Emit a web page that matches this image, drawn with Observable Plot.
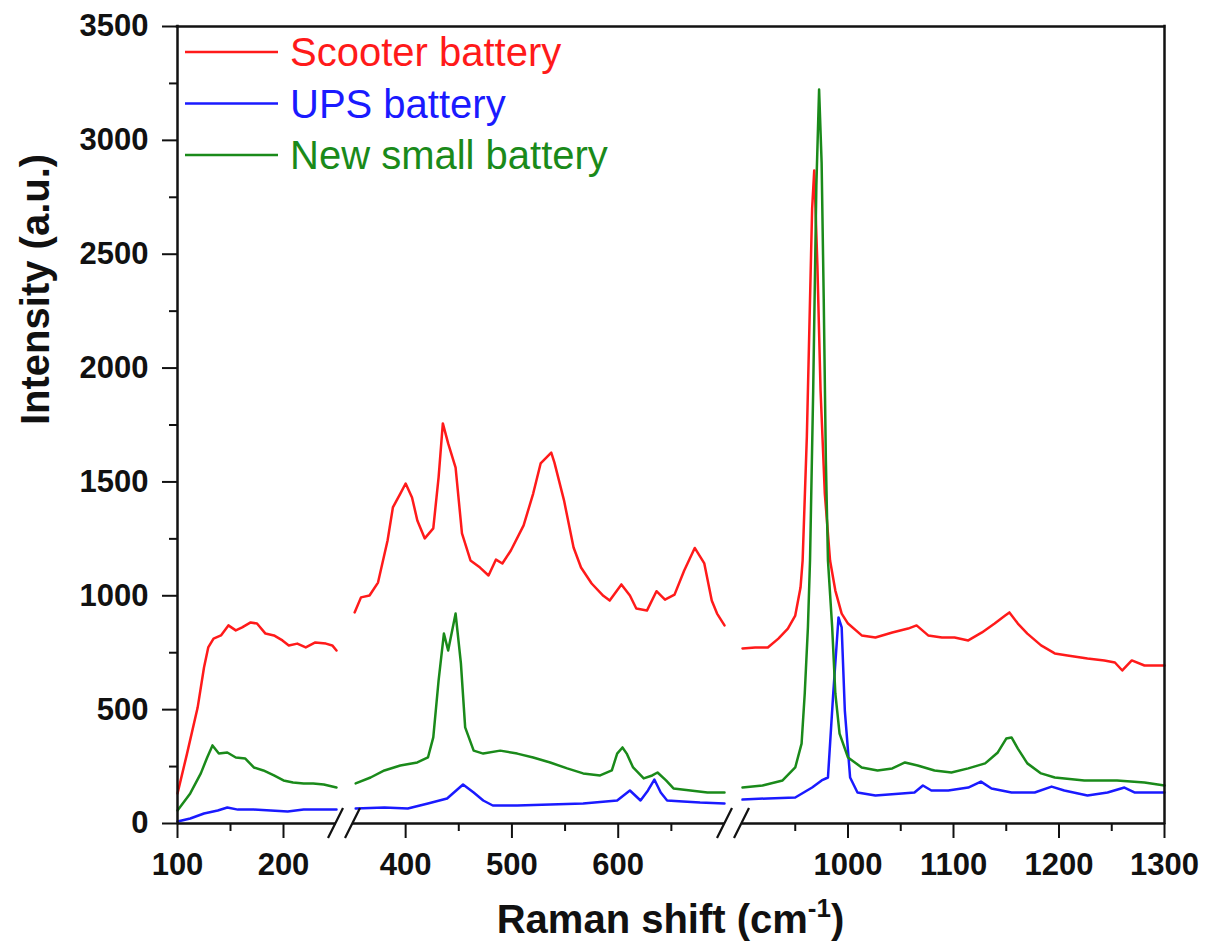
<!DOCTYPE html>
<html>
<head>
<meta charset="utf-8">
<script src="https://cdn.jsdelivr.net/npm/d3@7"></script>
<script src="https://cdn.jsdelivr.net/npm/@observablehq/plot@0.6"></script>
<style>
  body { margin: 0; background: #fff; }
  svg { font-family: Arial, "Liberation Sans", sans-serif; background: #fff; }
</style>
</head>
<body>
<div id="chart"></div>
<script>
// ---- data ----
const seriesNames = ["Scooter battery", "UPS battery", "New small battery"];
const seriesColors = ["#ff1a1a", "#1a1aff", "#1a8a1a"];

// x-axis segments (broken axis)
const segments = [[100, 250], [350, 700], [900, 1300]];

const scooterShift = [100,109,119,125,129,134,141,148,155,161,169,175,183,191,199,205,213,221,230,240,246,250,
  352,358,366,374,383,388,395,400,406,411,418,426,431,435,440,447,453,461,470,478,485,491,499,511,520,527,537,540,549,558,565,575,586,592,603,611,617,627,636,644,653,662,672,681,688,693,700,
  900,912,924,934,943,950,955,957,961,964,966,968,971,974,978,983,988,994,1000,1013,1026,1042,1057,1065,1076,1089,1101,1114,1127,1139,1149,1153,1161,1170,1183,1196,1208,1227,1243,1253,1260,1269,1281,1300];
const scooterIntensity = [132,307,509,685,773,812,826,870,848,861,883,878,834,826,804,782,790,773,795,790,782,760,
  927,993,1001,1058,1243,1388,1449,1493,1432,1331,1252,1296,1520,1757,1669,1563,1274,1155,1124,1089,1159,1142,1199,1309,1449,1581,1629,1585,1419,1212,1124,1054,1000,979,1050,1001,944,935,1020,983,1005,1110,1210,1142,979,922,870,
  769,773,773,812,856,913,1036,1155,1700,2300,2700,2868,2450,1900,1450,1155,1023,922,878,826,817,839,856,870,826,817,817,804,839,878,913,927,878,834,782,747,738,725,716,707,672,716,694,694];

const upsShift = [100,112,125,138,147,157,172,188,204,219,235,250,
  353,380,402,421,439,454,464,473,482,505,536,567,599,611,621,628,634,640,646,661,677,700,
  900,924,950,966,975,981,986,991,994,997,1002,1009,1026,1051,1063,1071,1079,1095,1114,1126,1136,1155,1177,1193,1205,1227,1246,1262,1272,1300];
const upsIntensity = [9,22,44,57,70,61,61,57,53,61,61,61,
  66,70,66,88,110,171,136,101,79,79,83,88,101,145,101,145,193,136,101,97,92,88,
  105,110,114,158,189,202,571,905,861,496,202,136,123,132,136,167,145,145,158,184,154,136,136,162,145,123,136,158,136,136];

const newShift = [100,112,122,128,133,139,147,155,164,172,181,191,200,209,219,228,238,250,
  353,367,380,395,411,421,426,431,436,440,447,452,456,464,473,489,505,520,536,552,567,583,594,599,604,608,614,624,632,637,645,652,668,684,700,
  900,919,938,950,956,959,962,964,967,970,972.6,975,977,979,981,985,988,992,1000,1013,1028,1042,1054,1066,1082,1098,1114,1130,1142,1150,1155,1161,1170,1183,1196,1224,1255,1281,1300];
const newIntensity = [57,132,220,290,343,307,312,290,285,246,233,211,189,180,176,176,171,158,
  176,202,233,255,268,290,378,628,834,760,922,703,422,320,307,320,307,290,268,242,220,211,233,307,334,307,246,198,211,224,189,154,145,136,136,
  158,167,189,246,351,571,861,1155,1900,2800,3223,2900,2300,1600,1155,861,571,395,290,246,233,242,268,255,233,224,242,264,312,373,378,329,264,220,202,189,189,180,167];

// ticks
const xMajorTicks = [100, 200, 400, 500, 600, 1000, 1100, 1200, 1300];
const xMinorTicks = [150, 450, 550, 650, 950, 1050, 1150, 1250];
const yMajorTicks = [0, 500, 1000, 1500, 2000, 2500, 3000, 3500];
const yMinorTicks = [250, 750, 1250, 1750, 2250, 2750, 3250];

// ---- build table ----
const segOf = (v) => segments.findIndex(([a, b]) => v >= a && v <= b);
const rows = [];
[[scooterShift, scooterIntensity], [upsShift, upsIntensity], [newShift, newIntensity]].forEach(([xs, ys], i) => {
  xs.forEach((v, j) => rows.push({series: seriesNames[i], shift: v, intensity: ys[j], seg: segOf(v)}));
});

const INK = "#111";

function decorations(index, scales, values, dimensions) {
  const g = d3.create("svg:g");
  const x = scales.x, y = scales.y;
  const y0 = y(0);
  // break marks on the x axis
  for (let i = 0; i < segments.length - 1; i++) {
    const c = (x(segments[i][1]) + x(segments[i + 1][0])) / 2;
    for (const off of [-8.5, 8.5]) {
      g.append("line")
        .attr("x1", c + off - 7.5).attr("y1", y0 + 15)
        .attr("x2", c + off + 7.5).attr("y2", y0 - 15)
        .attr("stroke", INK).attr("stroke-width", 2.2);
    }
  }
  // legend
  const L = dimensions.marginLeft, T = dimensions.marginTop;
  seriesNames.forEach((name, i) => {
    const ly = T + 26 + 51.5 * i;
    g.append("line")
      .attr("x1", L + 8).attr("x2", L + 101).attr("y1", ly).attr("y2", ly)
      .attr("stroke", seriesColors[i]).attr("stroke-width", 2.5);
    g.append("text")
      .attr("x", L + 113).attr("y", ly + 14)
      .attr("text-anchor", "start")
      .attr("fill", seriesColors[i]).attr("font-size", 40)
      .text(name);
  });
  // x-axis title
  const cx = (dimensions.marginLeft + dimensions.width - dimensions.marginRight) / 2;
  const t = g.append("text")
    .attr("x", cx).attr("y", 933)
    .attr("text-anchor", "middle").attr("font-size", 40).attr("font-weight", "bold").attr("fill", INK);
  t.append("tspan").text("Raman shift (cm");
  t.append("tspan").attr("font-size", 26).attr("dy", -16).text("-1");
  t.append("tspan").attr("dy", 16).text(")");
  return g.node();
}

const chart = Plot.plot({
  width: 1213,
  height: 945,
  marginLeft: 177,
  marginRight: 49,
  marginTop: 26,
  marginBottom: 122,
  style: {background: "#fff", color: INK},
  x: {type: "linear", domain: [100, 250, 350, 700, 900, 1300], range: [177, 336, 352, 724, 742, 1164], label: null},
  y: {domain: [0, 3500], range: [823, 26], label: null},
  color: {domain: seriesNames, range: seriesColors},
  marks: [
    Plot.line(rows, {x: "shift", y: "intensity", z: d => d.series + d.seg, stroke: "series", strokeWidth: 2.5, strokeLinejoin: "round"}),
    // frame: left, right, top and broken bottom
    Plot.ruleX([100, 1300], {stroke: INK, strokeWidth: 2.5, strokeLinecap: "square"}),
    Plot.ruleY([3500], {stroke: INK, strokeWidth: 2.5, strokeLinecap: "square"}),
    Plot.ruleY(segments, {y: () => 0, x1: d => d[0], x2: d => d[1], stroke: INK, strokeWidth: 2.5}),
    // axes
    Plot.axisY(yMajorTicks, {tickSize: 15, tickPadding: 14, fontSize: 31, fontWeight: "bold", strokeWidth: 2, tickFormat: d => String(d), label: null}),
    Plot.axisY(yMinorTicks, {tickSize: 8, strokeWidth: 2, tickFormat: () => "", label: null}),
    Plot.axisX(xMajorTicks, {tickSize: 15, tickPadding: 14, fontSize: 31, fontWeight: "bold", strokeWidth: 2, tickFormat: d => String(d), label: null}),
    Plot.axisX(xMinorTicks, {tickSize: 8, strokeWidth: 2, tickFormat: () => "", label: null}),
    Plot.text(["Intensity (a.u.)"], {frameAnchor: "left", dx: -141, rotate: -90, fontSize: 40, fontWeight: "bold", fill: INK}),
    decorations
  ]
});

document.getElementById("chart").appendChild(chart);
</script>
</body>
</html>
